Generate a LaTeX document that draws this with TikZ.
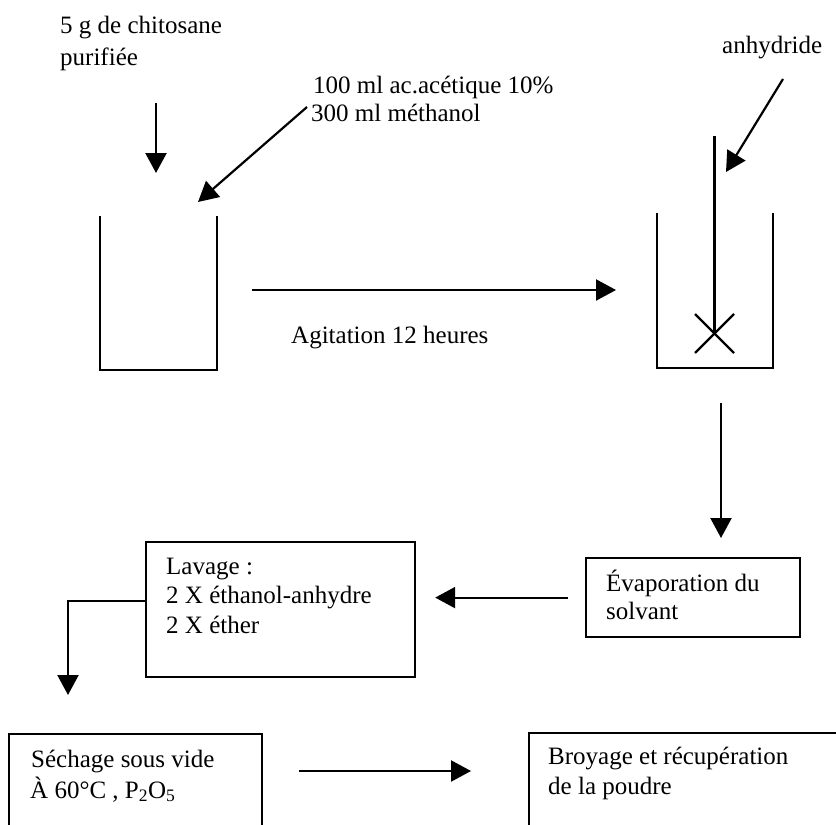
\documentclass[tikz,border=0pt]{standalone}
\usepackage{fontspec}
\setmainfont{Liberation Serif}
\usetikzlibrary{arrows.meta}
\begin{document}
\begin{tikzpicture}[x=1pt,y=-1pt,
  txt/.style={font=\fontsize{25}{29}\selectfont, anchor=base west, inner sep=0pt},
  ln/.style={line width=2.2pt},
  arr/.style={line width=2.2pt, -{Triangle[length=20pt,width=21pt]}},
  box/.style={draw, line width=2.2pt, anchor=north west, inner sep=0pt}]
\useasboundingbox (0,0) rectangle (836,825);
\clip (0,0) rectangle (836,825);
\fill[white] (0,0) rectangle (836,825);

% texts at top
\node[txt] (t1a) at (60,33.5) {5 g de chitosane};
\node[txt] (t1b) at (60,65) {purifiée};
\node[txt] (t2a) at (313,93) {100 ml ac.acétique 10\%};
\node[txt] (t2b) at (311,121) {300 ml méthanol};
\node[txt] (t3) at (722,53) {anhydride};
\node[txt] (t4) at (291,343) {Agitation 12 heures};

% beakers
\coordinate (b1tl) at (100,216);
\coordinate (b1br) at (217,370);
\draw[ln] (b1tl) |- (b1br) -- (b1br |- b1tl);
\coordinate (b2tl) at (657,213);
\coordinate (b2br) at (773,368);
\draw[ln] (b2tl) |- (b2br) -- (b2br |- b2tl);
% stirrer
\coordinate (st0) at (714.5,136);
\coordinate (stc) at (714.5,333.5);
\draw[ln] (st0) -- (stc);
\draw[ln] ([shift={(-19.5,-19.5)}]stc) -- ([shift={(19.5,19.5)}]stc);
\draw[ln] ([shift={(19.5,-19.5)}]stc) -- ([shift={(-19.5,19.5)}]stc);

% arrows at top
\coordinate (a1s) at (156,103);
\coordinate (a1e) at (156,173);
\draw[arr] (a1s) -- (a1e);
\coordinate (a2s) at (307,107);
\coordinate (a2e) at (198,202);
\draw[arr] (a2s) -- (a2e);
\coordinate (a3s) at (783,79);
\coordinate (a3e) at (726,172);
\draw[arr] (a3s) -- (a3e);
\coordinate (a4s) at (252,290);
\coordinate (a4e) at (616,290);
\draw[arr] (a4s) -- (a4e);
\coordinate (a5s) at (721,403);
\coordinate (a5e) at (721,538);
\draw[arr] (a5s) -- (a5e);

% boxes
\node[box, minimum width=214pt, minimum height=79pt] (evap) at (585,557) {};
\node[txt] (evapa) at (606,591) {Évaporation du};
\node[txt] (evapb) at (606,619) {solvant};

\node[box, minimum width=269pt, minimum height=135pt] (lav) at (145,541) {};
\node[txt] (lava) at (166,574) {Lavage :};
\node[txt] (lavb) at (166,603) {2 X éthanol-anhydre};
\node[txt] (lavc) at (166,633) {2 X éther};

\node[box, minimum width=253pt, minimum height=130pt] (sech) at (8,733) {};
\node[txt] (secha) at (31,767) {Séchage sous vide};
\node[txt] (sechb) at (30,798) {À 60°C , P\textsubscript{2}O\textsubscript{5}};

\node[box, minimum width=330pt, minimum height=130pt] (broy) at (528,732) {};
\node[txt] (broya) at (548,764) {Broyage et récupération};
\node[txt] (broyb) at (548,794) {de la poudre};

% connectors between boxes
\draw[arr] ([xshift=-17pt]evap.west) -- ([xshift=19pt]lav.east |- evap.west);
\coordinate (c1) at (68,695);
\draw[arr] ([yshift=8.5pt]lav.west) -| (c1);
\coordinate (s1) at (299,771);
\coordinate (s2) at (471,771);
\draw[arr] (s1) -- (s2);
\end{tikzpicture}
\end{document}
